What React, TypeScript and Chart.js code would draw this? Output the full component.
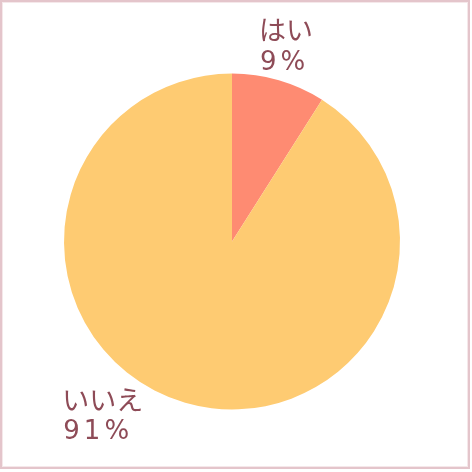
import { useEffect, useRef } from 'react'
import { Chart, ArcElement, PieController, type Plugin } from 'chart.js'

Chart.register(ArcElement, PieController)

const labels = ['はい', 'いいえ']
const percentLabels = ['9%', '91%']
const values = [9, 91]
const colors = ['#fe8b72', '#fecb72']

// label anchor: left edge and first-line middle, in radius units from the pie centre
const labelAnchors = [
  { dx: 0.16, dy: -1.26 },
  { dx: -1.01, dy: 0.94 },
]

const TEXT_COLOR = '#8e4b57'
const FONT = '27px "Noto Sans CJK JP", sans-serif'
const NUM_FONT = '26px "DejaVu Sans", sans-serif'

const labelPlugin: Plugin<'pie'> = {
  id: 'sideLabels',
  afterDatasetsDraw(chart) {
    const meta = chart.getDatasetMeta(0)
    const arc = meta.data[0] as any
    if (!arc) return
    const { x, y, outerRadius } = arc.getProps(['x', 'y', 'outerRadius'], true)
    const ctx = chart.ctx as any
    ctx.save()
    ctx.fillStyle = TEXT_COLOR
    ctx.textAlign = 'left'
    ctx.textBaseline = 'middle'
    labels.forEach((lab, i) => {
      const a = labelAnchors[i]
      const lx = x + a.dx * outerRadius
      const ly = y + a.dy * outerRadius
      ctx.font = FONT
      ctx.letterSpacing = '0px'
      ctx.fillText(lab, lx, ly)
      ctx.font = NUM_FONT
      ctx.letterSpacing = '4px'
      ctx.fillText(percentLabels[i], lx + 1, ly + 33)
    })
    ctx.restore()
  },
}

function PieChart() {
  const ref = useRef<HTMLCanvasElement>(null)
  const chartRef = useRef<Chart<'pie'> | null>(null)

  useEffect(() => {
    if (!ref.current) return
    chartRef.current?.destroy()
    chartRef.current = new Chart(ref.current, {
      type: 'pie',
      data: {
        labels,
        datasets: [{
          data: values,
          backgroundColor: colors,
          borderWidth: 0,
        }],
      },
      options: {
        responsive: false,
        animation: false,
        layout: { padding: { left: 64, right: 72, top: 73, bottom: 62 } },
        plugins: {
          legend: { display: false },
          tooltip: { enabled: false },
        },
      },
      plugins: [labelPlugin],
    })
    return () => chartRef.current?.destroy()
  }, [])

  return <canvas ref={ref} width={472} height={472} style={{ display: 'block', width: 472, height: 472 }} />
}

export default function App() {
  useEffect(() => {
    document.body.style.margin = '0'
  }, [])
  return (
    <div style={{ position: 'relative', width: 472, height: 472, background: '#fff' }}>
      <PieChart />
      <div style={{
        position: 'absolute', left: 0, top: 0, width: 470, height: 469,
        boxSizing: 'border-box', border: '2px solid #e4c5cb',
        boxShadow: 'inset 0 0 0 1px #f5e8ea', pointerEvents: 'none',
      }} />
    </div>
  )
}
